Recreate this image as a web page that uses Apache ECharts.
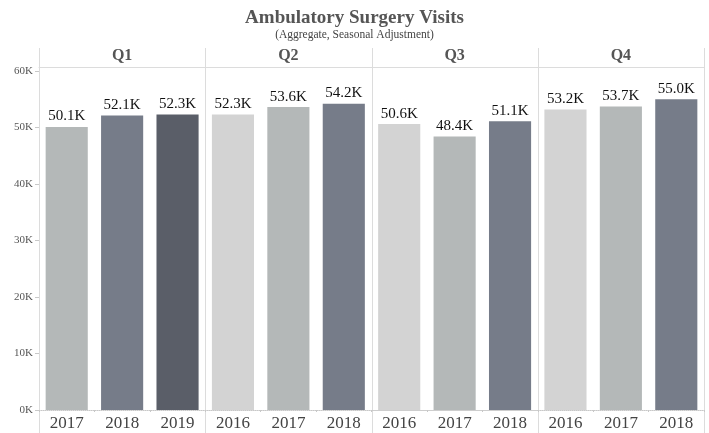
<!DOCTYPE html>
<html>
<head>
<meta charset="utf-8">
<script src="https://cdn.jsdelivr.net/npm/echarts@6/dist/echarts.min.js"></script>
<style>html,body{margin:0;padding:0;background:#fff;}#c{width:709px;height:433px;}</style>
</head>
<body>
<div id="c"></div>
<script>
const quarters = ['Q1', 'Q2', 'Q3', 'Q4'];
const q1Years = ['2017', '2018', '2019'];
const q2Years = ['2016', '2017', '2018'];
const q3Years = ['2016', '2017', '2018'];
const q4Years = ['2016', '2017', '2018'];
const q1Values = [50100, 52100, 52300];
const q2Values = [52300, 53600, 54200];
const q3Values = [50600, 48400, 51100];
const q4Values = [53200, 53700, 55000];
const yTicks = [0, 10000, 20000, 30000, 40000, 50000, 60000];
const yearColors = { '2016': '#d3d3d3', '2017': '#b4b8b8', '2018': '#767c89', '2019': '#5a5e68' };

const yearsByQ = [q1Years, q2Years, q3Years, q4Years];
const valuesByQ = [q1Values, q2Values, q3Values, q4Values];

const L = 39, R = 704, TOP = 67, BOT = 410, HEAD = 48;
const W = (R - L) / 4;
const FONT = '"Liberation Serif", "DejaVu Serif", serif';
const fmtK = v => (v / 1000).toFixed(1) + 'K';

const grids = [], xAxes = [], yAxes = [], series = [], graphics = [];
quarters.forEach((q, i) => {
  grids.push({ left: L + i * W, width: W, top: TOP, bottom: 433 - BOT });
  xAxes.push({
    type: 'category', gridIndex: i, data: yearsByQ[i], position: 'bottom',
    axisLine: { show: true, lineStyle: { color: '#c8c8c8', type: [1, 1] } },
    axisTick: { show: true, length: 2, lineStyle: { color: '#c8c8c8' } },
    axisLabel: { fontFamily: FONT, fontSize: 17, color: '#444', margin: 5 }
  });
  xAxes.push({
    type: 'category', gridIndex: i, data: [q], position: 'top',
    axisLine: { show: true, lineStyle: { color: '#dcdcdc' } },
    axisTick: { show: false },
    axisLabel: { fontFamily: FONT, fontSize: 16, fontWeight: 'bold', color: '#555', margin: 3 }
  });
  yAxes.push({
    type: 'value', gridIndex: i, min: 0, max: 60700,
    splitLine: { show: false },
    axisLine: { show: false },
    axisTick: { show: i === 0, length: 4, lineStyle: { color: '#c8c8c8' }, customValues: yTicks },
    axisLabel: {
      show: i === 0, customValues: yTicks, fontFamily: FONT, fontSize: 11, color: '#555', margin: 6,
      formatter: v => (v / 1000) + 'K'
    }
  });
  series.push({
    type: 'bar', xAxisIndex: i * 2, yAxisIndex: i,
    barCategoryGap: '24%',
    data: valuesByQ[i].map((v, k) => ({ value: v, itemStyle: { color: yearColors[yearsByQ[i][k]] } })),
    label: { show: true, position: 'top', distance: 3, fontFamily: FONT, fontSize: 15, color: '#111', formatter: p => fmtK(p.value) },
    silent: true, animation: false
  });
});
for (let i = 0; i <= 4; i++) {
  const x = Math.round(L + i * W) + 0.5;
  graphics.push({ type: 'line', shape: { x1: x, y1: HEAD, x2: x, y2: 433 }, style: { stroke: '#dcdcdc', lineWidth: 1 }, silent: true });
}

const chart = echarts.init(document.getElementById('c'), null, { renderer: 'canvas' });
chart.setOption({
  animation: false,
  backgroundColor: '#fff',
  title: {
    text: 'Ambulatory Surgery Visits',
    subtext: '(Aggregate, Seasonal Adjustment)',
    left: 'center', top: 4, itemGap: 1,
    textStyle: { fontFamily: FONT, fontSize: 19, fontWeight: 'bold', color: '#555' },
    subtextStyle: { fontFamily: FONT, fontSize: 11.5, color: '#444' }
  },
  grid: grids, xAxis: xAxes, yAxis: yAxes, series: series,
  graphic: graphics
});
</script>
</body>
</html>
